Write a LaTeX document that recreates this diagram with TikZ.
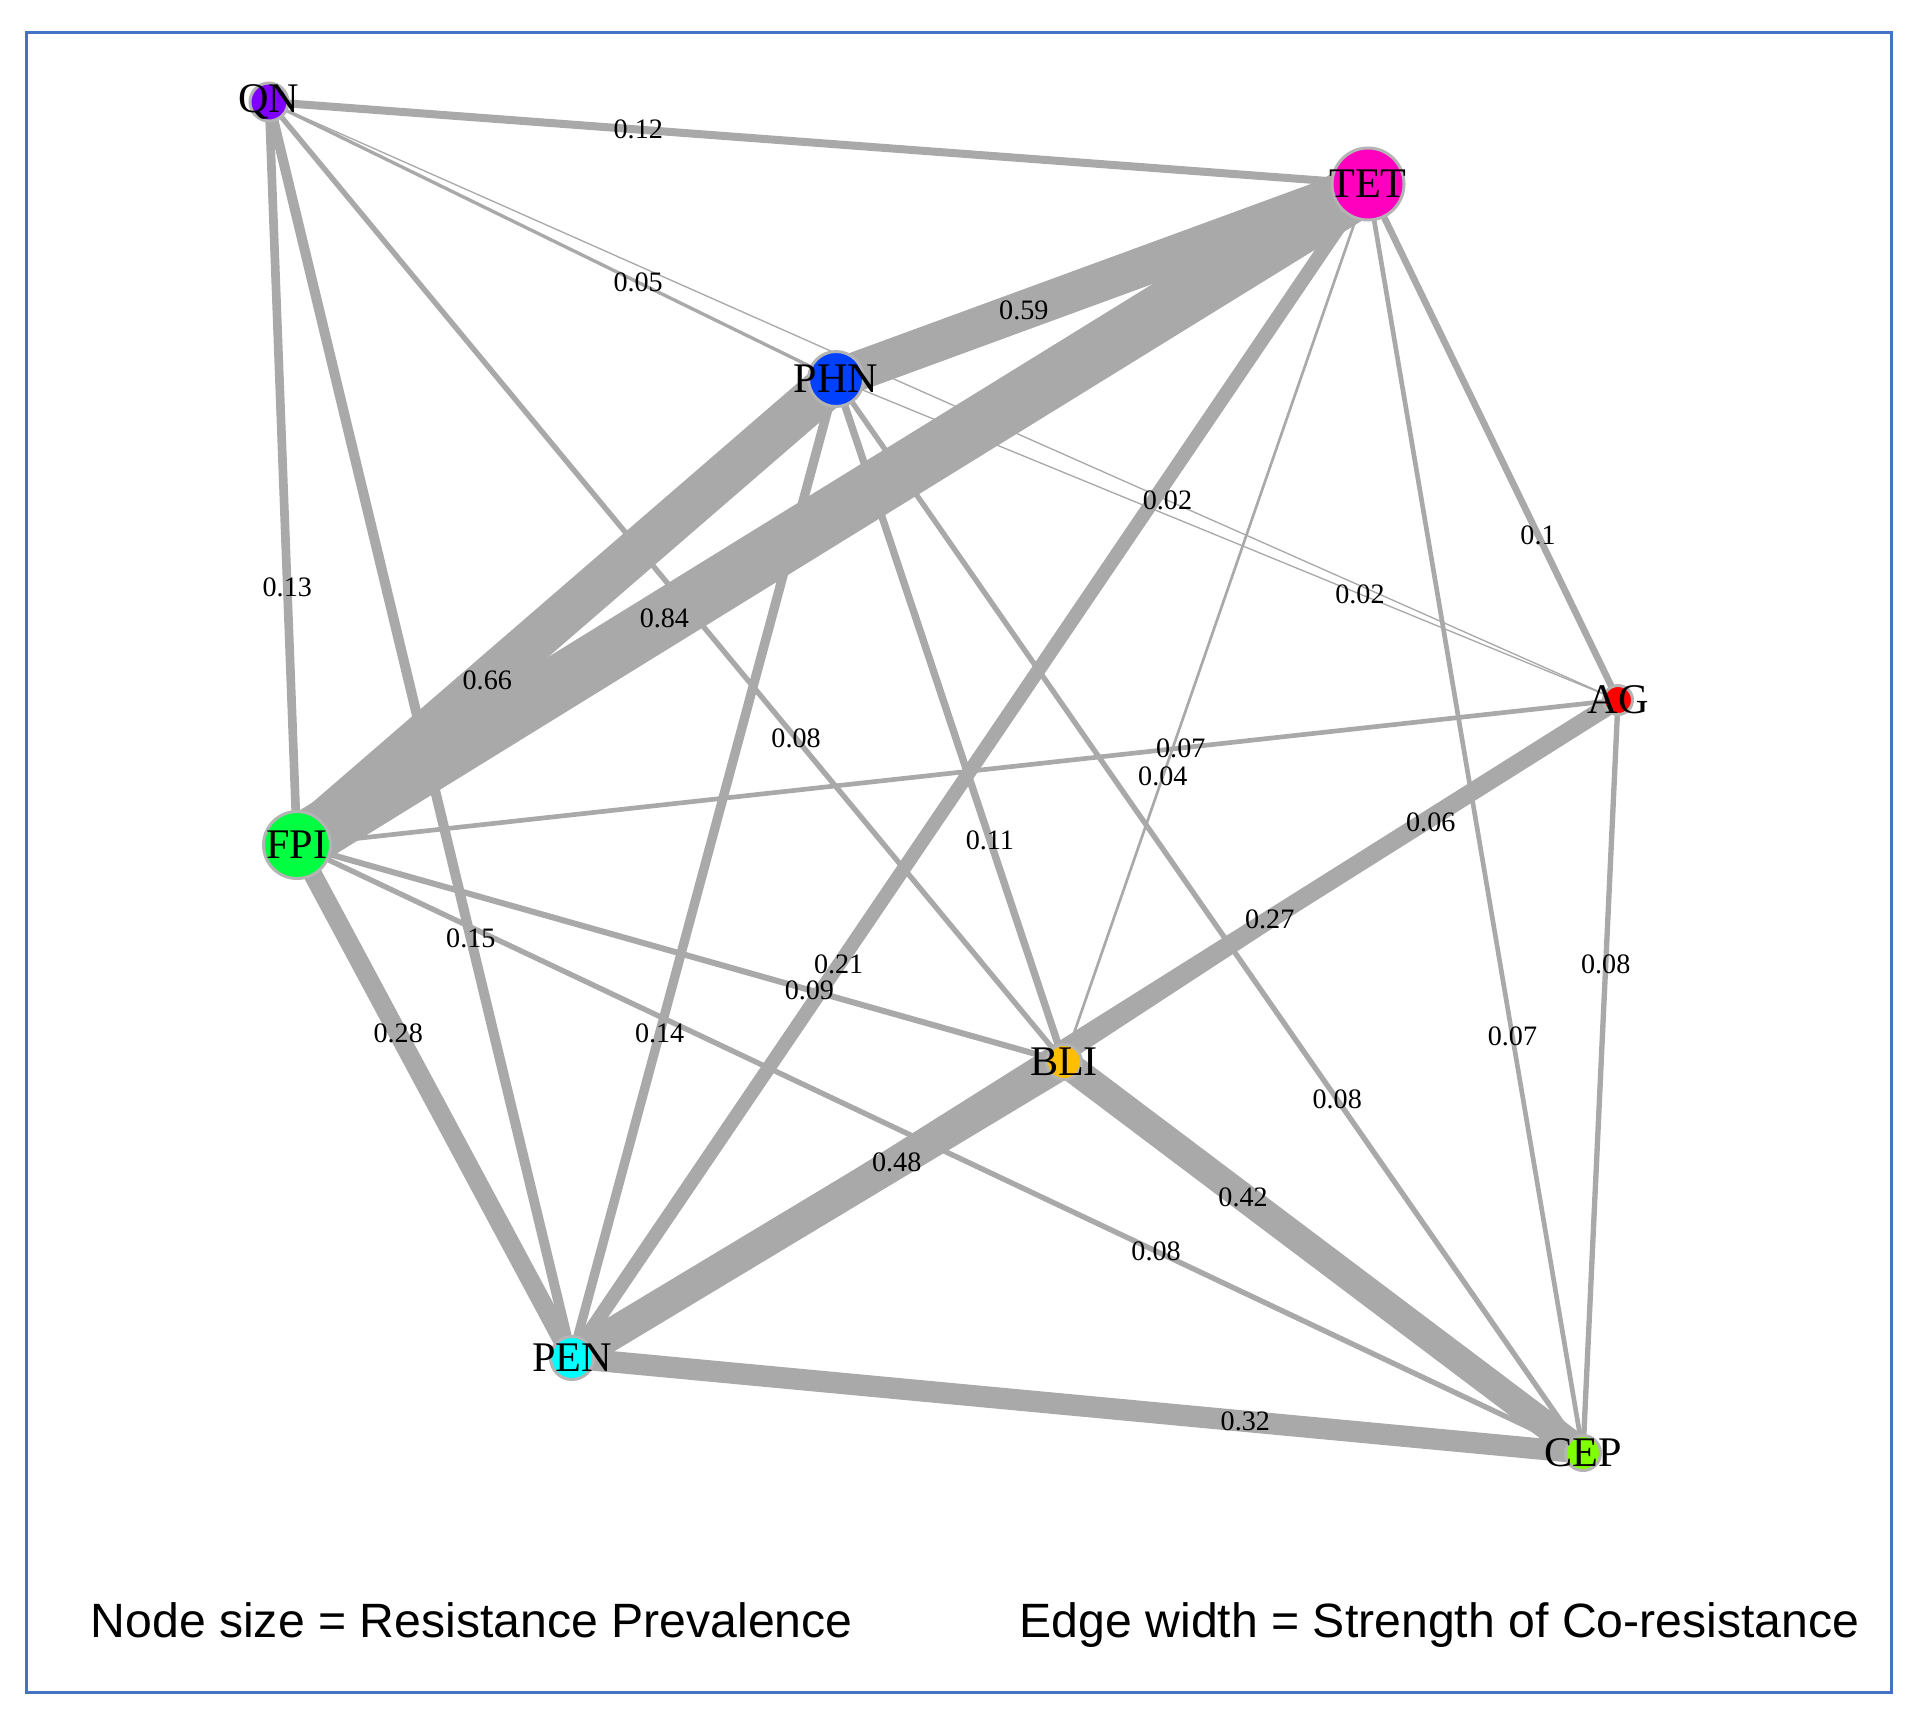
\documentclass[tikz,border=0pt]{standalone}
\usepackage{fontspec}
\setmainfont{Liberation Serif}
\newfontfamily\legendfont{Liberation Sans}
\usetikzlibrary{backgrounds}
\definecolor{edgegray}{HTML}{A9A9A9}
\definecolor{framegray}{HTML}{B4B4B4}
\definecolor{boxblue}{HTML}{4472C4}
\definecolor{cQN}{HTML}{8000FF}
\definecolor{cTET}{HTML}{FF00BF}
\definecolor{cPHN}{HTML}{0040FF}
\definecolor{cAG}{HTML}{FF0000}
\definecolor{cFPI}{HTML}{00FF40}
\definecolor{cBLI}{HTML}{FFBF00}
\definecolor{cPEN}{HTML}{00FFFF}
\definecolor{cCEP}{HTML}{80FF00}
\tikzset{
  drug/.style={circle, draw=framegray, line width=0.85pt, inner sep=0pt, outer sep=0pt},
  drugtext/.style={font=\fontsize{12}{12}\selectfont, text=black, inner sep=0pt},
  edgeline/.style={draw=edgegray, line cap=butt},
  elabel/.style={font=\fontsize{8}{8}\selectfont, text=black, inner sep=0pt},
  legend/.style={font=\legendfont\fontsize{13.7}{14}\selectfont, inner sep=0pt}
}
\begin{document}
\begin{tikzpicture}[x=0.01cm, y=-0.01cm]
\useasboundingbox (0,0) rectangle (1925,1727);
\draw[boxblue, line width=0.85pt] (26.5,32.5) rectangle (1891.5,1692);

% nodes
\node[drug, fill=cQN,  minimum size=38pt*0.2845] (QN)  at (269,102)  {};
\node[drug, fill=cTET, minimum size=72pt*0.2845] (TET) at (1368,184) {};
\node[drug, fill=cPHN, minimum size=55pt*0.2845] (PHN) at (836,379)  {};
\node[drug, fill=cAG,  minimum size=29pt*0.2845] (AG)  at (1618,700) {};
\node[drug, fill=cFPI, minimum size=67pt*0.2845] (FPI) at (297,845)  {};
\node[drug, fill=cBLI, minimum size=35pt*0.2845] (BLI) at (1064,1062) {};
\node[drug, fill=cPEN, minimum size=43pt*0.2845] (PEN) at (572,1358) {};
\node[drug, fill=cCEP, minimum size=35pt*0.2845] (CEP) at (1583,1453) {};

\foreach \n in {QN,TET,PHN,AG,FPI,BLI,PEN,CEP}
  \node[drugtext] at (\n) {\n};

\begin{pgfonlayer}{background}
\foreach \a/\b/\v/\f in {
  QN/TET/0.12/0.336, QN/PHN/0.05/0.651, PHN/TET/0.59/0.353, QN/AG/0.02/0.666,
  TET/AG/0.1/0.68, PHN/AG/0.02/0.67, QN/FPI/0.13/0.653, FPI/TET/0.84/0.343,
  PHN/FPI/0.66/0.647, QN/BLI/0.08/0.663, FPI/AG/0.07/0.669, TET/BLI/0.04/0.675,
  PHN/BLI/0.11/0.675, AG/BLI/0.06/0.338, AG/PEN/0.27/0.333, TET/PEN/0.21/0.665,
  FPI/BLI/0.09/0.668, QN/PEN/0.15/0.666, FPI/PEN/0.28/0.368, PHN/PEN/0.14/0.668,
  BLI/PEN/0.48/0.34, FPI/CEP/0.08/0.668, AG/CEP/0.08/0.351, TET/CEP/0.07/0.672,
  PHN/CEP/0.08/0.671, BLI/CEP/0.42/0.345, PEN/CEP/0.32/0.666}
{
  \pgfmathsetmacro{\w}{max(0.35, 19*\v)}
  \draw[edgeline, line width=\w pt] (\a.center) -- (\b.center);
}
\end{pgfonlayer}

\foreach \a/\b/\v/\f in {
  QN/TET/0.12/0.336, QN/PHN/0.05/0.651, PHN/TET/0.59/0.353, QN/AG/0.02/0.666,
  TET/AG/0.1/0.68, PHN/AG/0.02/0.67, QN/FPI/0.13/0.653, FPI/TET/0.84/0.343,
  PHN/FPI/0.66/0.647, QN/BLI/0.08/0.663, FPI/AG/0.07/0.669, TET/BLI/0.04/0.675,
  PHN/BLI/0.11/0.675, AG/BLI/0.06/0.338, AG/PEN/0.27/0.333, TET/PEN/0.21/0.665,
  FPI/BLI/0.09/0.668, QN/PEN/0.15/0.666, FPI/PEN/0.28/0.368, PHN/PEN/0.14/0.668,
  BLI/PEN/0.48/0.34, FPI/CEP/0.08/0.668, AG/CEP/0.08/0.351, TET/CEP/0.07/0.672,
  PHN/CEP/0.08/0.671, BLI/CEP/0.42/0.345, PEN/CEP/0.32/0.666}
{
  \path (\a.center) -- node[elabel, pos=\f] {\v} (\b.center);
}

\node[legend, anchor=base west] (leg1) at (90,1637) {Node size = Resistance Prevalence};
\node[legend, anchor=base west] (leg2) at (1019,1637) {Edge width = Strength of Co-resistance};
\end{tikzpicture}
\end{document}
